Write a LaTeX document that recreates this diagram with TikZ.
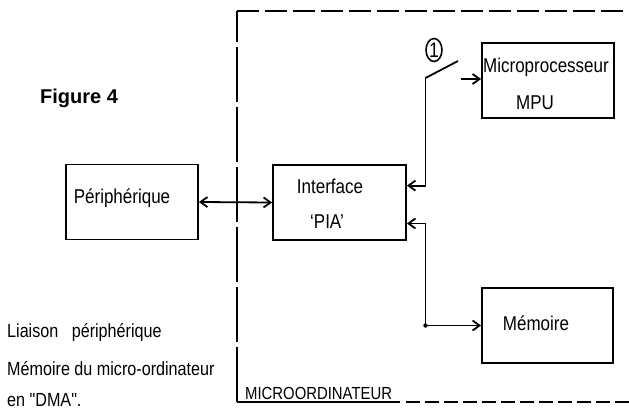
\documentclass[tikz,border=0pt]{standalone}
\usepackage{fontspec}
\setmainfont{Liberation Sans}
\newfontfamily\draftfont[FakeStretch=0.85]{Liberation Sans}
\usetikzlibrary{arrows.meta,shapes.geometric,calc}
\begin{document}
\begin{tikzpicture}[x=1pt,y=-1pt,
  box/.style={draw,line width=1.8pt,minimum width=132pt,minimum height=75pt,inner sep=0pt},
  lbl/.style={inner sep=0pt,font=\draftfont\fontsize{20}{24}\selectfont},
  side/.style={inner sep=0pt,anchor=base west,font=\draftfont\fontsize{19}{22}\selectfont},
  barb/.tip={Straight Barb[length=7pt,width=10pt,line width=1.8pt]},
  conn/.style={line width=1.8pt,-barb},
  conn2/.style={line width=1.8pt,barb-barb},
  frame/.style={line width=1.5pt}]
\useasboundingbox (0,0) rectangle (629,410);
% frame
\draw[frame,dash pattern=on 55pt off 5pt] (237,402) -- (237,11);
\draw[frame,dash pattern=on 22pt off 6pt] (237,11) -- (629,11);
\draw[frame] (237,402) -- (400,402);
\draw[frame,dash pattern=on 14pt off 5pt] (406,402) -- (629,402);
\node[inner sep=0pt,anchor=base west,font=\draftfont\fontsize{17.5}{20}\selectfont] (micro) at (245,399) {MICROORDINATEUR};
% title
\node[inner sep=0pt,anchor=base west,font=\fontsize{20}{24}\selectfont\bfseries] (fig) at (40,103) {Figure 4};
% boxes
\node[box] (per) at (132,202) {};
\node[lbl] (pertxt) at (122,198) {Périphérique};
\node[box,minimum width=133pt] (pia) at (339.5,202.5) {};
\node[lbl] (piatxt1) at (330,186) {Interface};
\node[lbl] (piatxt2) at (327,222) {‘PIA’};
\node[box] (mpu) at (548,80.5) {};
\node[lbl] (mputxt1) at (546,67) {Microprocesseur};
\node[lbl] (mputxt2) at (535,103) {MPU};
\node[box,minimum width=131pt] (mem) at (547.5,325.5) {};
\node[lbl] (memtxt) at (536,323) {Mémoire};
% connectors
\draw[conn2] (per.east) -- (pia.west);
\coordinate (sw1) at (425.5,78);
\coordinate (sw2) at (458,61);
\coordinate (sw3) at (461,79);
\draw[line width=1.8pt] (sw1) -- (sw2);
\draw[conn] (sw3) -- (sw3 -| mpu.west);
\draw[conn] (sw1) |- ($(pia.north east)!0.28!(pia.south east)$);
\node[draw,ellipse,line width=1.6pt,minimum width=16pt,minimum height=23pt,inner sep=0pt,font=\draftfont\fontsize{21}{24}\selectfont] (one) at (434,50) {1};
\coordinate (j) at (425.5,325.5);
\fill (j) circle (2.2pt);
\draw[conn] (j) |- ($(pia.north east)!0.773!(pia.south east)$);
\draw[conn] (j) -- (mem.west);
% side text
\node[side] (t1) at (7,337) {Liaison\ \ \ périphérique};
\node[side] (t2) at (7,375) {Mémoire du micro-ordinateur};
\node[side] (t3) at (7,406) {en \symbol{34}DMA\symbol{34}.};
\end{tikzpicture}
\end{document}
